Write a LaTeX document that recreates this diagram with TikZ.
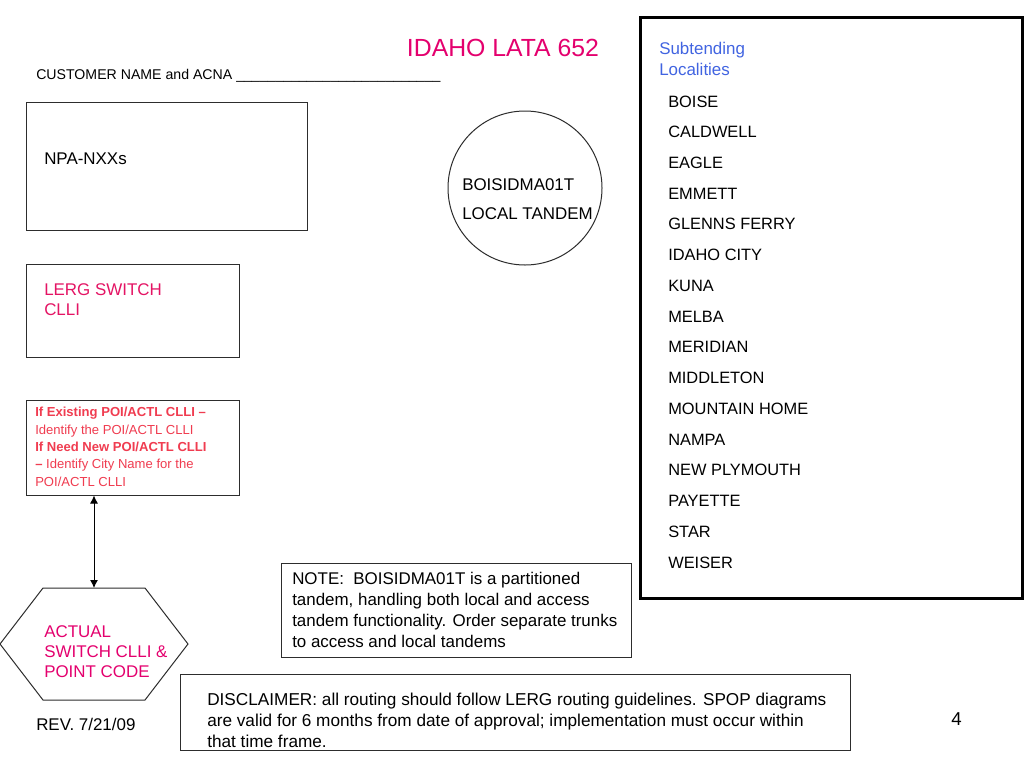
\documentclass[tikz,border=0pt]{standalone}
\usepackage{fontspec}
\setmainfont{Liberation Sans}
\usetikzlibrary{fit,arrows.meta}
\definecolor{magentared}{RGB}{228,0,110}
\definecolor{lergred}{RGB}{228,20,100}
\definecolor{pinkred}{RGB}{240,60,80}
\definecolor{subblue}{RGB}{65,100,225}
\definecolor{boxgray}{RGB}{45,45,45}
\begin{document}
\begin{tikzpicture}[x=0.75pt,y=-0.75pt,
  box/.style={draw=boxgray, line width=0.75pt, inner sep=0pt},
  txt/.style={anchor=base west, inner sep=0pt, align=left},
  fmain/.style={font=\fontsize{12.7}{15.75}\selectfont},
  arr/.style={{Latex[length=6pt,width=6pt]}-{Latex[length=6pt,width=6pt]}, line width=0.75pt}]
\useasboundingbox (0,0) rectangle (1024,768);
\fill[white] (0,0) rectangle (1024,768);

% title and header
\node[txt, anchor=base, text=magentared, font=\fontsize{18.6}{22}\selectfont] (title) at (503,56) {IDAHO LATA 652};
\node[txt, font=\fontsize{10.6}{13}\selectfont] (cust) at (36,79) {CUSTOMER NAME and ACNA \_\_\_\_\_\_\_\_\_\_\_\_\_\_\_\_\_\_\_\_\_\_\_\_\_\_};

% NPA-NXX box
\node[box, fit={(26,102) (307,230)}] (npa) {};
\node[txt, fmain] (npatxt) at (44,164) {NPA-NXXs};

% LERG box (multi-line texts are anchored at the baseline of their last line)
\node[box, fit={(26,264) (239,357)}] (lerg) {};
\node[txt, text=lergred, font=\fontsize{12.7}{15}\selectfont] (lergtxt) at (44,315) {LERG SWITCH\\CLLI};

% POI box
\node[box, fit={(26,400) (239,495)}] (poi) {};
\node[txt, text=pinkred, font=\fontsize{9.8}{12.94}\selectfont] (poitxt) at (35,486)
  {\textbf{If Existing POI/ACTL CLLI –}\\Identify the POI/ACTL CLLI\\\textbf{If Need New POI/ACTL CLLI}\\\textbf{–} Identify City Name for the\\POI/ACTL CLLI};

% hexagon
\draw[boxgray, line width=0.75pt] (0,644) -- (43,588) -- (145,588) -- (188,644) -- (145,700) -- (43,700) -- cycle;
\coordinate (hextop) at (94,588);
\node[txt, text=magentared, font=\fontsize{12.7}{15}\selectfont] (hextxt) at (44,677) {ACTUAL\\SWITCH CLLI \&\\POINT CODE};
\draw[arr] (poi.south -| hextop) -- (hextop);

% tandem circle
\node[draw=boxgray, line width=0.75pt, circle, minimum size=115.5pt, inner sep=0pt] (tandem) at (525,188) {};
\node[txt, fmain] (tandid) at (462,190) {BOISIDMA01T};
\node[txt, fmain] (tandtype) at (462,219) {LOCAL TANDEM};

% subtending localities
\node[draw=black, line width=2.25pt, inner sep=0pt, fit={(640,17) (1022,598)}] (loc) {};
\node[txt, text=subblue, font=\fontsize{12.7}{15.75}\selectfont] (subhead) at (659,75) {Subtending\\Localities};
\node[txt, font=\fontsize{12.3}{23.05}\selectfont] (loclist) at (668,568)
  {BOISE\\CALDWELL\\EAGLE\\EMMETT\\GLENNS FERRY\\IDAHO CITY\\KUNA\\MELBA\\MERIDIAN\\MIDDLETON\\MOUNTAIN HOME\\NAMPA\\NEW PLYMOUTH\\PAYETTE\\STAR\\WEISER};

% note
\node[box, fit={(281,563) (631,657)}] (note) {};
\node[txt, fmain] (notetxt) at (292,647)
  {NOTE:\ \ BOISIDMA01T is a partitioned\\tandem, handling both local and access\\tandem functionality. Order separate trunks\\to access and local tandems};

% disclaimer
\node[box, fit={(180,674) (850,750)}] (disc) {};
\node[txt, font=\fontsize{12.9}{15.4}\selectfont] (disctxt) at (207,747)
  {DISCLAIMER: all routing should follow LERG routing guidelines. SPOP diagrams\\are valid for 6 months from date of approval; implementation must occur within\\that time frame.};

% footer
\node[txt, fmain] (rev) at (36,730) {REV. 7/21/09};
\node[txt, font=\fontsize{14}{16}\selectfont] (page) at (951,725) {4};
\end{tikzpicture}
\end{document}
